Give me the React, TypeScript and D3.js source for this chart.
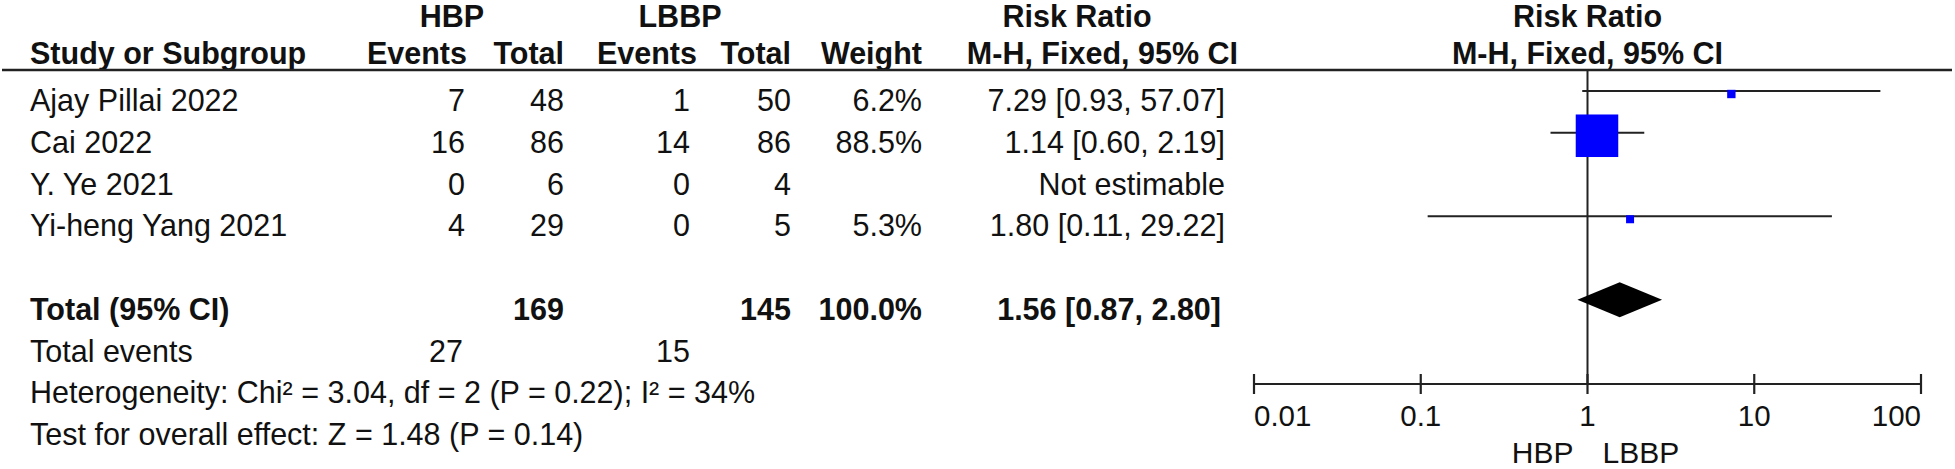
import React from "react";
import * as d3 from "d3";

const studies = ["Ajay Pillai 2022", "Cai 2022", "Y. Ye 2021", "Yi-heng Yang 2021"];
const hbpEvents = [7, 16, 0, 4];
const hbpTotal = [48, 86, 6, 29];
const lbbpEvents = [1, 14, 0, 0];
const lbbpTotal = [50, 86, 4, 5];
const weights: (number | null)[] = [6.2, 88.5, null, 5.3];
const riskRatio: (number | null)[] = [7.29, 1.14, null, 1.8];
const ciLow: (number | null)[] = [0.93, 0.6, null, 0.11];
const ciHigh: (number | null)[] = [57.07, 2.19, null, 29.22];

const totalHbp = 169;
const totalLbbp = 145;
const totalWeight = 100.0;
const totalRR = 1.56;
const totalLow = 0.87;
const totalHigh = 2.8;
const eventsHbp = 27;
const eventsLbbp = 15;

const heterogeneityText = "Heterogeneity: Chi² = 3.04, df = 2 (P = 0.22); I² = 34%";
const overallText = "Test for overall effect: Z = 1.48 (P = 0.14)";
const tickValues = [0.01, 0.1, 1, 10, 100];
const tickLabels = ["0.01", "0.1", "1", "10", "100"];

const W = 1955;
const H = 469;
const FONT = "'Liberation Sans', Arial, Helvetica, sans-serif";
const FS = 30.5;

export default function App() {
  const x = d3.scaleLog().domain([0.01, 100]).range([1254, 1921]);
  // text baseline per row index (0..3 studies, 5 total, 6 events, 7 het, 8 overall)
  const rowY = d3.scaleLinear().domain([0, 8]).range([111, 445]);
  const lineY = (i: number) => rowY(i) - 20;
  const size = d3.scaleLinear().domain([0, 100]).range([5.8, 47.3]);

  const hdrRight = [467, 564, 697, 791, 922, 1238];
  const numRight = [465, 564, 690, 791, 922, 1225];
  const hdr1Y = 27;
  const hdr2Y = 64;
  const lineTop = 70;
  const axisY = 384;

  const fmt2 = d3.format(".2f");
  const ciText = (r: number, l: number, h: number) => `${fmt2(r)} [${fmt2(l)}, ${fmt2(h)}]`;

  const x1 = x(1);
  const center = (x(0.01) + x(100)) / 2;

  return (
    <svg
      width={W}
      height={H}
      style={{ position: "absolute", left: 0, top: 0, background: "#fff" }}
      fontFamily={FONT}
    >
      <rect x={0} y={0} width={W} height={H} fill="#fff" />
      {/* Header row 1 */}
      <g fontWeight="bold" fontSize={FS} fill="#111" textAnchor="middle">
        <text x={452} y={hdr1Y}>HBP</text>
        <text x={680} y={hdr1Y}>LBBP</text>
        <text x={1077} y={hdr1Y}>Risk Ratio</text>
        <text x={center} y={hdr1Y}>Risk Ratio</text>
      </g>
      {/* Header row 2 */}
      <g fontWeight="bold" fontSize={FS} fill="#111">
        <text x={30} y={hdr2Y}>Study or Subgroup</text>
        {["Events", "Total", "Events", "Total", "Weight", "M-H, Fixed, 95% CI"].map((t, i) => (
          <text key={i} x={hdrRight[i]} y={hdr2Y} textAnchor="end">{t}</text>
        ))}
        <text x={center} y={hdr2Y} textAnchor="middle">M-H, Fixed, 95% CI</text>
      </g>
      <line x1={2} x2={1952} y1={lineTop} y2={lineTop} stroke="#222" strokeWidth={2.5} />

      {/* Study rows */}
      <g fontSize={FS} fill="#111">
        {studies.map((s, i) => {
          const y = rowY(i);
          const r = riskRatio[i];
          return (
            <g key={s}>
              <text x={30} y={y}>{s}</text>
              <text x={numRight[0]} y={y} textAnchor="end">{hbpEvents[i]}</text>
              <text x={numRight[1]} y={y} textAnchor="end">{hbpTotal[i]}</text>
              <text x={numRight[2]} y={y} textAnchor="end">{lbbpEvents[i]}</text>
              <text x={numRight[3]} y={y} textAnchor="end">{lbbpTotal[i]}</text>
              {weights[i] != null && (
                <text x={numRight[4]} y={y} textAnchor="end">{`${d3.format(".1f")(weights[i] as number)}%`}</text>
              )}
              <text x={numRight[5]} y={y} textAnchor="end">
                {r != null ? ciText(r, ciLow[i] as number, ciHigh[i] as number) : "Not estimable"}
              </text>
            </g>
          );
        })}
      </g>

      {/* Total row */}
      <g fontSize={FS} fill="#111" fontWeight="bold">
        <text x={30} y={rowY(5)}>Total (95% CI)</text>
        <text x={numRight[1]} y={rowY(5)} textAnchor="end">{totalHbp}</text>
        <text x={numRight[3]} y={rowY(5)} textAnchor="end">{totalLbbp}</text>
        <text x={numRight[4]} y={rowY(5)} textAnchor="end">{`${d3.format(".1f")(totalWeight)}%`}</text>
        <text x={numRight[5] - 4} y={rowY(5)} textAnchor="end">{ciText(totalRR, totalLow, totalHigh)}</text>
      </g>
      <g fontSize={FS} fill="#111">
        <text x={30} y={rowY(6)}>Total events</text>
        <text x={numRight[0] - 2} y={rowY(6)} textAnchor="end">{eventsHbp}</text>
        <text x={numRight[2]} y={rowY(6)} textAnchor="end">{eventsLbbp}</text>
        <text x={30} y={rowY(7)}>{heterogeneityText}</text>
        <text x={30} y={rowY(8)}>{overallText}</text>
      </g>

      {/* Forest plot */}
      <line x1={x1} x2={x1} y1={lineTop} y2={axisY} stroke="#222" strokeWidth={2} />
      {studies.map((s, i) => {
        const r = riskRatio[i];
        if (r == null) return null;
        const y = lineY(i);
        const sz = size(weights[i] as number);
        return (
          <g key={s}>
            <line x1={x(ciLow[i] as number)} x2={x(ciHigh[i] as number)} y1={y} y2={y} stroke="#222" strokeWidth={2.2} />
            <rect x={x(r) - sz / 2} y={y + 3 - sz / 2} width={sz} height={sz} fill="#0000ff" />
          </g>
        );
      })}
      <polygon
        points={[
          [x(totalLow), lineY(5)],
          [x(totalRR), lineY(5) - 17.5],
          [x(totalHigh), lineY(5)],
          [x(totalRR), lineY(5) + 17.5],
        ]
          .map((p) => p.join(","))
          .join(" ")}
        fill="#000"
      />

      {/* Axis */}
      <line x1={x(0.01)} x2={x(100)} y1={axisY} y2={axisY} stroke="#222" strokeWidth={2.2} />
      {tickValues.map((t, i) => (
        <g key={t}>
          <line x1={x(t)} x2={x(t)} y1={axisY - 10} y2={axisY + 10} stroke="#222" strokeWidth={2.2} />
          <text
            x={x(t)}
            y={426}
            fontSize={29.5}
            fill="#111"
            textAnchor={i === 0 ? "start" : i === tickValues.length - 1 ? "end" : "middle"}
          >
            {tickLabels[i]}
          </text>
        </g>
      ))}
      <text x={x1 - 14} y={463} fontSize={30} fill="#111" textAnchor="end">HBP</text>
      <text x={x1 + 15} y={463} fontSize={30} fill="#111" textAnchor="start">LBBP</text>
    </svg>
  );
}
